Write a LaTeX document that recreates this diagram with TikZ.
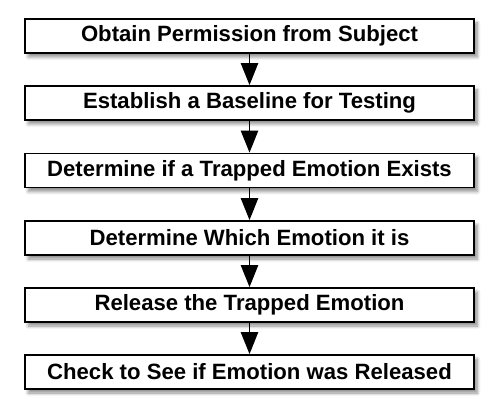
\documentclass[tikz,border=0pt]{standalone}
\usepackage{fontspec}
\setmainfont{Liberation Sans}
\usetikzlibrary{arrows.meta,shadows.blur}
\begin{document}
\begin{tikzpicture}[x=0.75pt,y=-0.75pt,
  stepbox/.style={draw=black, line width=1.3pt, fill=white, minimum width=449*0.75pt, minimum height=34*0.75pt, inner sep=0pt,
    font=\fontsize{16.6}{19}\selectfont\bfseries,
    blur shadow={shadow xshift=2.5pt, shadow yshift=-3pt, shadow opacity=45, shadow blur steps=6, shadow blur radius=2.5pt}},
  flow/.style={line width=0.8pt, -{Triangle[length=16.5pt, width=13pt]}}]
\useasboundingbox (0,0) rectangle (500,420);
\node[stepbox] (s1) at (249.5,36) {Obtain Permission from Subject};
\node[stepbox] (s2) at (249.5,103) {Establish a Baseline for Testing};
\node[stepbox] (s3) at (249.5,170.5) {Determine if a Trapped Emotion Exists};
\node[stepbox] (s4) at (249.5,238) {Determine Which Emotion it is};
\node[stepbox] (s5) at (249.5,305) {Release the Trapped Emotion};
\node[stepbox] (s6) at (249.5,372) {Check to See if Emotion was Released};
\foreach \a/\b in {s1/s2,s2/s3,s3/s4,s4/s5,s5/s6}
  \draw[flow] (\a.south) -- (\b.north);
\end{tikzpicture}
\end{document}
